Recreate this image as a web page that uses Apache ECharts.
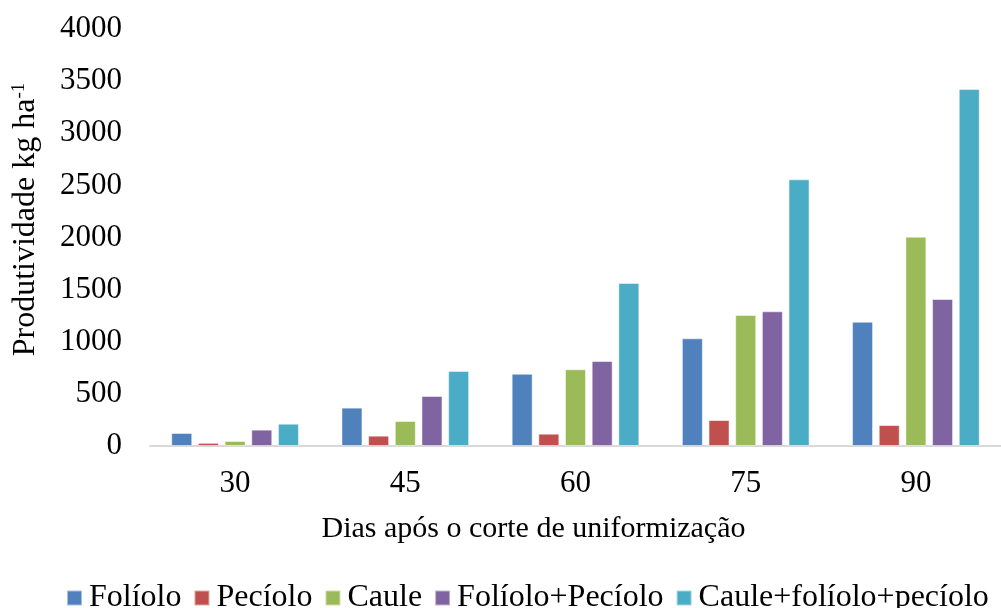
<!DOCTYPE html>
<html>
<head>
<meta charset="utf-8">
<script src="https://cdn.jsdelivr.net/npm/echarts@6/dist/echarts.min.js"></script>
<style>
html,body{margin:0;padding:0;background:#fff;}
#chart{width:1001px;height:608px;}
</style>
</head>
<body>
<div id="chart"></div>
<script>
const categories = ['30', '45', '60', '75', '90'];
const seriesNames = ['Folíolo', 'Pecíolo', 'Caule', 'Folíolo+Pecíolo', 'Caule+folíolo+pecíolo'];
const folioloValues = [125, 368, 693, 1033, 1192];
const pecioloValues = [30, 99, 118, 249, 201];
const cauleValues = [48, 240, 736, 1257, 2008];
const folioloPecioloValues = [157, 480, 815, 1292, 1410];
const totalValues = [214, 720, 1564, 2558, 3424];
const yTicks = [0, 500, 1000, 1500, 2000, 2500, 3000, 3500, 4000];
const colors = ['#4F81BD', '#C0504D', '#9BBB59', '#8064A2', '#4BACC6'];

const allValues = [folioloValues, pecioloValues, cauleValues, folioloPecioloValues, totalValues];
const font = '"Liberation Serif", "Times New Roman", serif';

const chart = echarts.init(document.getElementById('chart'), null, {renderer: 'canvas'});
chart.setOption({
  animation: false,
  textStyle: {fontFamily: font, color: '#000'},
  legend: {
    left: 61, top: 577,
    itemWidth: 15, itemHeight: 15, itemGap: 12,
    icon: 'rect',
    textStyle: {fontFamily: font, fontSize: 32, color: '#000', padding: [0, 0, 0, 2]},
    data: seriesNames
  },
  grid: {left: 150, top: 29, width: 864, height: 417},
  xAxis: {
    type: 'category',
    data: categories,
    axisLine: {lineStyle: {color: '#D9D9D9', width: 2}},
    axisTick: {show: false},
    axisLabel: {fontFamily: font, fontSize: 31, color: '#000', margin: 22},
    name: 'Dias após o corte de uniformização',
    nameLocation: 'middle',
    nameGap: 68,
    nameTextStyle: {fontFamily: font, fontSize: 30, color: '#000', padding: [0, 84, 0, 0]}
  },
  yAxis: {
    type: 'value',
    min: yTicks[0], max: yTicks[yTicks.length - 1], interval: 500,
    axisLine: {show: false},
    axisTick: {show: false},
    splitLine: {show: false},
    axisLabel: {fontFamily: font, fontSize: 31, color: '#000', margin: 28, formatter: v => String(v)},
    name: '{n|Produtividade kg ha}{s|-1}',
    nameLocation: 'middle',
    nameGap: 108,
    nameRotate: 90,
    nameTextStyle: {
      padding: [0, 0, 0, 36],
      rich: {
        n: {fontFamily: font, fontSize: 32, color: '#000'},
        s: {fontFamily: font, fontSize: 19, color: '#000', verticalAlign: 'top', padding: [0, 0, 12, 0]}
      }
    }
  },
  series: seriesNames.map((name, i) => ({
    name: name,
    type: 'bar',
    data: allValues[i],
    barWidth: 21,
    barGap: '27%',
    itemStyle: {color: colors[i], borderColor: 'rgba(255,255,255,0.5)', borderWidth: 1}
  }))
});
</script>
</body>
</html>
